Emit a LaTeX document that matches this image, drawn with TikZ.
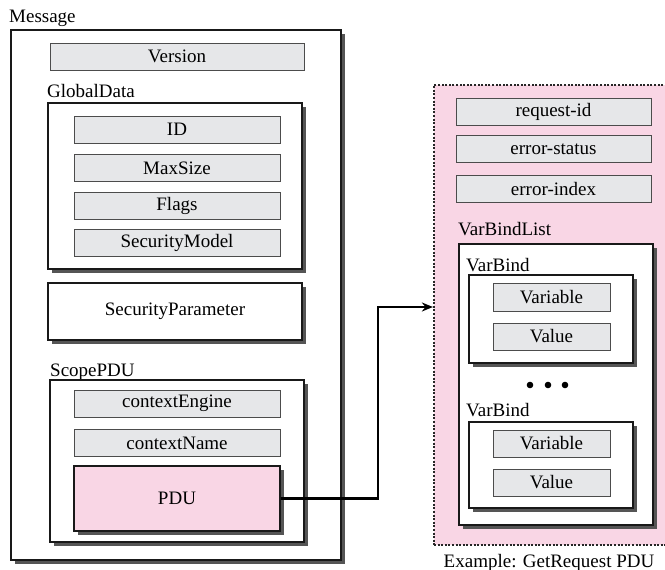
\documentclass[tikz,border=0pt]{standalone}
\usepackage{fontspec}
\setmainfont{Liberation Serif}
\usetikzlibrary{shadows,arrows.meta}
\definecolor{fieldgray}{RGB}{230,231,233}
\definecolor{pdupink}{RGB}{249,214,229}
\definecolor{shadowgray}{RGB}{85,85,85}
\tikzset{
    field/.style={draw=black!70, line width=1pt, fill=fieldgray, minimum height=27pt, inner sep=0pt},
    frame/.style={draw=black!90, line width=1.5pt, fill=white, inner sep=0pt,
        drop shadow={shadow xshift=4pt, shadow yshift=-4pt, fill=shadowgray, opacity=1}},
    title/.style={anchor=base west, inner sep=0pt},
    panel/.style={fill=pdupink, draw=black!85, line width=2.2pt, dash pattern=on 2pt off 1.6pt},
    link/.style={line width=2.2pt, -{Stealth[length=11pt,width=9pt]}}
}
\begin{document}
\begin{tikzpicture}[x=1pt, y=-1pt, every node/.style={font=\fontsize{19}{22}\selectfont}]
        \useasboundingbox (0,0) rectangle (665,570);
        % message
        \node[title] (msgt) at (9,23) {Message};
        \node[frame, minimum width=330, minimum height=530] (msg) at (176,295) {};
        \node[field, minimum width=254] (version) at (177,56.5) {Version};

        \node[title] (globt) at (47,97) {GlobalData};
        \node[frame, minimum width=254, minimum height=166] (glob) at (175,186) {};
        \foreach \y/\n/\t in {129.5/id/ID, 168/maxsize/MaxSize, 205.5/flags/Flags, 243/secmodel/SecurityModel}
        \node[field, minimum width=206] (\n) at (177,\y) {\t};

        \node[frame, minimum width=254, minimum height=57] (secparam) at (175,311.5) {SecurityParameter};

        \node[title] (scopet) at (50,376) {ScopePDU};
        \node[frame, minimum width=254, minimum height=162] (scope) at (177,461) {};
        \node[field, minimum width=206] (ctxengine) at (177,403.5) {contextEngine};
        \node[field, minimum width=206] (ctxname) at (177,443) {contextName};
        \node[frame, fill=pdupink, minimum width=206, minimum height=65] (pdu) at (177,498.5) {PDU};

        % GetRequest PDU
        \node[panel, minimum width=250, minimum height=460] (getreq) at (559,315) {};
        \foreach \y/\n/\t in {111.5/reqid/request-id, 149/errstatus/error-status, 189/errindex/error-index}
        \node[field, minimum width=195] (\n) at (553.5,\y) {\t};

        \node[title] (listt) at (458,235) {VarBindList};
        \node[frame, minimum width=194, minimum height=281] (list) at (556,384.5) {};

        \node[title] (bindat) at (466,271) {VarBind};
        \node[frame, minimum width=164, minimum height=88] (binda) at (551,319) {};
        \node[field, minimum width=117, minimum height=28] (vara) at (551.5,297) {Variable};
        \node[field, minimum width=117] (vala) at (551.5,336.5) {Value};

        \foreach \x in {530, 548, 565}
        \fill (\x,385) circle (3.3pt);

        \node[title] (bindbt) at (466,416) {VarBind};
        \node[frame, minimum width=164, minimum height=86] (bindb) at (551,465) {};
        \node[field, minimum width=117] (varb) at (551.5,443.5) {Variable};
        \node[field, minimum width=117] (valb) at (551.5,482.5) {Value};

        \node[anchor=base, inner sep=0pt] (caption) at (549,567) {Example: GetRequest PDU};

        \coordinate (bend) at (378,307);
        \draw[link] (pdu.east) -| (bend) -- (bend -| getreq.west);
    \end{tikzpicture}
\end{document}
